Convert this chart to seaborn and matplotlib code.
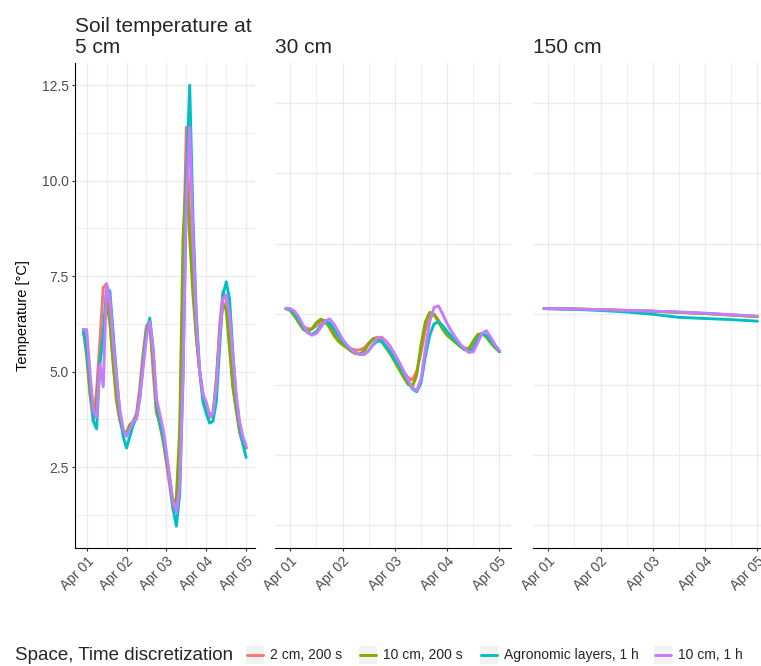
import matplotlib
matplotlib.use("Agg")
import matplotlib.pyplot as plt
import matplotlib.dates as mdates
from matplotlib.lines import Line2D
from matplotlib.patches import Rectangle
import numpy as np
import pandas as pd
import seaborn as sns

# ---- data ----
schemes = ["2 cm, 200 s", "10 cm, 200 s", "Agronomic layers, 1 h", "10 cm, 1 h"]
colors = ["#F8766D", "#7CAE00", "#00BFC4", "#C77CFF"]
depth_titles = ["5 cm", "30 cm", "150 cm"]

# hours after Apr 01 00:00
hours = [-2, 0, 2, 4, 6, 8, 10, 12, 14, 16, 18, 20, 22, 24, 26, 28, 30, 32, 34, 36,
         38, 40, 42, 44, 46, 48, 50, 52, 54, 56, 58, 60, 62, 64, 66, 68, 70, 72, 74, 76,
         78, 80, 82, 84, 86, 88, 90, 92, 94, 96]

# 5 cm
t5_2cm_200s = [6.1, 5.4, 4.4, 3.7, 4.5, 5.8, 7.2, 7.3, 6.3, 5.2, 4.2, 3.7, 3.4, 3.35, 3.6, 3.7, 3.9, 4.6, 5.5, 6.2,
               6.3, 5.0, 3.9, 3.7, 3.2, 2.6, 2.0, 1.4, 1.5, 3.0, 7.5, 11.4, 9.0, 7.3, 5.9, 5.0, 4.4, 4.0, 3.8, 3.85,
               4.6, 6.2, 7.1, 6.9, 5.7, 4.6, 4.0, 3.4, 3.1, 3.0]
t5_10cm_200s = [6.1, 5.5, 4.5, 3.8, 4.2, 5.3, 6.0, 6.8, 6.3, 5.2, 4.3, 3.8, 3.45, 3.4, 3.6, 3.7, 3.8, 4.4, 5.3, 6.1,
                6.2, 5.3, 4.0, 3.6, 3.2, 2.7, 2.2, 1.5, 1.7, 3.5, 8.5, 10.2, 8.5, 7.0, 5.9, 5.0, 4.4, 4.0, 3.9, 3.9,
                4.8, 6.0, 6.8, 6.6, 5.6, 4.6, 4.0, 3.5, 3.2, 3.0]
t5_agro_1h = [6.1, 5.6, 4.8, 3.7, 3.5, 5.2, 6.0, 7.2, 7.1, 6.0, 4.9, 3.9, 3.3, 3.0, 3.3, 3.6, 3.8, 4.3, 5.2, 6.0,
              6.4, 5.6, 4.2, 3.7, 3.3, 2.8, 2.2, 1.4, 0.95, 1.8, 4.8, 10.0, 12.5, 9.0, 6.5, 5.0, 4.2, 3.9, 3.65, 3.7,
              4.2, 5.6, 7.0, 7.35, 6.9, 5.5, 4.3, 3.6, 3.1, 2.75]
t5_10cm_1h = [6.1, 6.1, 5.0, 4.0, 3.8, 5.2, 4.6, 7.3, 6.9, 5.8, 4.8, 4.0, 3.5, 3.3, 3.5, 3.7, 3.75, 4.3, 5.1, 5.9,
              6.3, 5.6, 4.3, 3.9, 3.5, 2.9, 2.2, 1.6, 1.3, 2.0, 5.0, 9.5, 11.4, 8.5, 6.3, 5.0, 4.4, 4.2, 3.85, 3.9,
              4.6, 5.9, 6.9, 7.0, 6.5, 5.4, 4.4, 3.7, 3.3, 3.05]

# 30 cm
t30_2cm_200s = [6.65, 6.62, 6.5, 6.32, 6.18, 6.12, 6.12, 6.2, 6.3, 6.32, 6.2, 6.02, 5.85, 5.75, 5.65, 5.6, 5.56, 5.57, 5.62, 5.75,
                5.86, 5.9, 5.83, 5.68, 5.52, 5.35, 5.17, 5.0, 4.85, 4.78, 5.0, 5.5, 6.1, 6.42, 6.5, 6.35, 6.15, 5.98, 5.87, 5.78,
                5.68, 5.62, 5.6, 5.72, 5.9, 5.98, 5.95, 5.8, 5.65, 5.53]
t30_10cm_200s = [6.65, 6.6, 6.45, 6.27, 6.1, 6.05, 6.12, 6.28, 6.37, 6.33, 6.15, 5.95, 5.8, 5.7, 5.62, 5.53, 5.47, 5.46, 5.55, 5.72,
                 5.85, 5.87, 5.78, 5.62, 5.45, 5.25, 5.05, 4.85, 4.67, 4.6, 4.9, 5.7, 6.3, 6.55, 6.5, 6.3, 6.1, 5.95, 5.85, 5.75,
                 5.65, 5.57, 5.6, 5.8, 5.97, 6.0, 5.9, 5.75, 5.62, 5.52]
t30_agro_1h = [6.65, 6.63, 6.52, 6.35, 6.15, 6.02, 5.97, 6.05, 6.2, 6.28, 6.28, 6.12, 5.95, 5.8, 5.68, 5.58, 5.5, 5.45, 5.45, 5.55,
               5.7, 5.8, 5.78, 5.65, 5.5, 5.33, 5.15, 4.97, 4.75, 4.55, 4.47, 4.7, 5.4, 5.95, 6.25, 6.3, 6.2, 6.05, 5.92, 5.8,
               5.68, 5.58, 5.52, 5.6, 5.85, 5.98, 5.95, 5.82, 5.67, 5.52]
t30_10cm_1h = [6.65, 6.65, 6.58, 6.42, 6.2, 6.02, 5.95, 6.0, 6.15, 6.32, 6.38, 6.25, 6.05, 5.85, 5.7, 5.58, 5.5, 5.45, 5.45, 5.55,
               5.72, 5.88, 5.9, 5.8, 5.65, 5.45, 5.25, 5.02, 4.8, 4.58, 4.5, 4.8, 5.6, 6.3, 6.68, 6.72, 6.5, 6.25, 6.05, 5.88,
               5.72, 5.6, 5.5, 5.52, 5.75, 6.0, 6.07, 5.9, 5.7, 5.55]

# 150 cm (coarser sampling, nearly flat)
hours150 = [-2, 12, 24, 36, 48, 60, 72, 84, 96]
t150_2cm_200s = [6.65, 6.64, 6.62, 6.6, 6.58, 6.55, 6.52, 6.48, 6.44]
t150_10cm_200s = [6.65, 6.64, 6.62, 6.6, 6.58, 6.55, 6.52, 6.48, 6.44]
t150_agro_1h = [6.65, 6.63, 6.6, 6.56, 6.5, 6.42, 6.39, 6.36, 6.32]
t150_10cm_1h = [6.65, 6.64, 6.62, 6.6, 6.58, 6.56, 6.53, 6.49, 6.45]

start = pd.Timestamp("2021-04-01")


def long_frame(hrs, series):
    parts = []
    for name, vals in zip(schemes, series):
        parts.append(pd.DataFrame({
            "time": start + pd.to_timedelta(hrs, unit="h"),
            "temp": vals,
            "scheme": name,
        }))
    return pd.concat(parts, ignore_index=True)


frames = [
    long_frame(hours, [t5_2cm_200s, t5_10cm_200s, t5_agro_1h, t5_10cm_1h]),
    long_frame(hours, [t30_2cm_200s, t30_10cm_200s, t30_agro_1h, t30_10cm_1h]),
    long_frame(hours150, [t150_2cm_200s, t150_10cm_200s, t150_agro_1h, t150_10cm_1h]),
]

# ---- figure ----
sns.set_style("white")
plt.rcParams["font.family"] = ["Liberation Sans", "DejaVu Sans"]

W, H = 761, 666
fig = plt.figure(figsize=(W / 100, H / 100), dpi=100)


def px_box(left, top, right, bottom):
    return [left / W, 1 - bottom / H, (right - left) / W, (bottom - top) / H]


boxes = [px_box(75, 63, 255, 548), px_box(275, 63, 511, 548), px_box(533, 63, 769, 548)]
grid_col = "#EBEBEB"
text_col = "#4D4D4D"

axes = []
for i, (frame, box) in enumerate(zip(frames, boxes)):
    ax = fig.add_axes(box)
    sns.lineplot(data=frame, x="time", y="temp", hue="scheme", hue_order=schemes,
                 palette=colors, linewidth=2.1, estimator=None, sort=False,
                 legend=False, ax=ax)
    ax.set_xlim(start - pd.Timedelta(hours=7), start + pd.Timedelta(hours=101.3))
    ax.set_ylim(0.38, 13.08)
    ax.xaxis.set_major_locator(mdates.DayLocator())
    ax.xaxis.set_minor_locator(mdates.HourLocator(byhour=[12]))
    ax.xaxis.set_major_formatter(mdates.DateFormatter("%b %d"))
    ax.set_xlabel("")
    ax.set_ylabel("")
    ax.grid(True, which="major", color=grid_col, lw=1.0)
    ax.grid(True, which="minor", color=grid_col, lw=0.6)
    ax.set_axisbelow(True)
    for s in ["top", "right"]:
        ax.spines[s].set_visible(False)
    ax.spines["bottom"].set_color("black")
    ax.spines["bottom"].set_linewidth(0.8)
    ax.tick_params(axis="x", which="major", length=2.5, width=0.8, color="#333333",
                   labelsize=10, labelcolor=text_col, pad=2, bottom=True)
    ax.tick_params(which="minor", length=0)
    plt.setp(ax.get_xticklabels(), rotation=45, ha="right", rotation_mode="anchor")
    if i == 0:
        ax.set_yticks([2.5, 5.0, 7.5, 10.0, 12.5])
        ax.set_yticklabels(["2.5", "5.0", "7.5", "10.0", "12.5"])
        ax.set_yticks([1.25, 3.75, 6.25, 8.75, 11.25], minor=True)
        ax.spines["left"].set_color("black")
        ax.spines["left"].set_linewidth(0.8)
        ax.tick_params(axis="y", which="major", length=2.5, width=0.8, color="#333333",
                       labelsize=10, labelcolor=text_col, pad=2, left=True)
        ax.set_ylabel("Temperature [°C]", fontsize=10.5, color="black")
        ax.yaxis.set_label_coords(-0.25, 0.48)
    else:
        ax.spines["left"].set_visible(False)
        ax.set_yticks([0.98, 2.81, 4.65, 6.5, 8.34, 10.2, 12.03])
        ax.set_yticklabels([])
        ax.tick_params(axis="y", length=0)
    axes.append(ax)

# panel titles
fig.text(75 / W, 1 - 32 / H, "Soil temperature at", fontsize=15, ha="left", va="baseline")
for ax_left, title in zip([75, 275, 533], depth_titles):
    fig.text(ax_left / W, 1 - 53 / H, title, fontsize=15, ha="left", va="baseline")

# legend along the bottom
leg_y = 655
fig.text(15 / W, 1 - leg_y / H, "Space, Time discretization", fontsize=13.5,
         ha="left", va="center")
key_left = [246, 359, 480, 654]
for kx, name, col in zip(key_left, schemes, colors):
    fig.patches.append(Rectangle((kx / W, 1 - (leg_y + 9) / H), 18 / W, 18 / H,
                                 transform=fig.transFigure, facecolor="#F2F2F2",
                                 edgecolor="none"))
    fig.lines.append(Line2D([(kx + 1) / W, (kx + 17) / W], [1 - leg_y / H, 1 - leg_y / H],
                            transform=fig.transFigure, color=col, lw=2.1))
    fig.text((kx + 24) / W, 1 - leg_y / H, name, fontsize=10, ha="left", va="center")

fig.savefig("out.png", dpi=100, facecolor="white")
